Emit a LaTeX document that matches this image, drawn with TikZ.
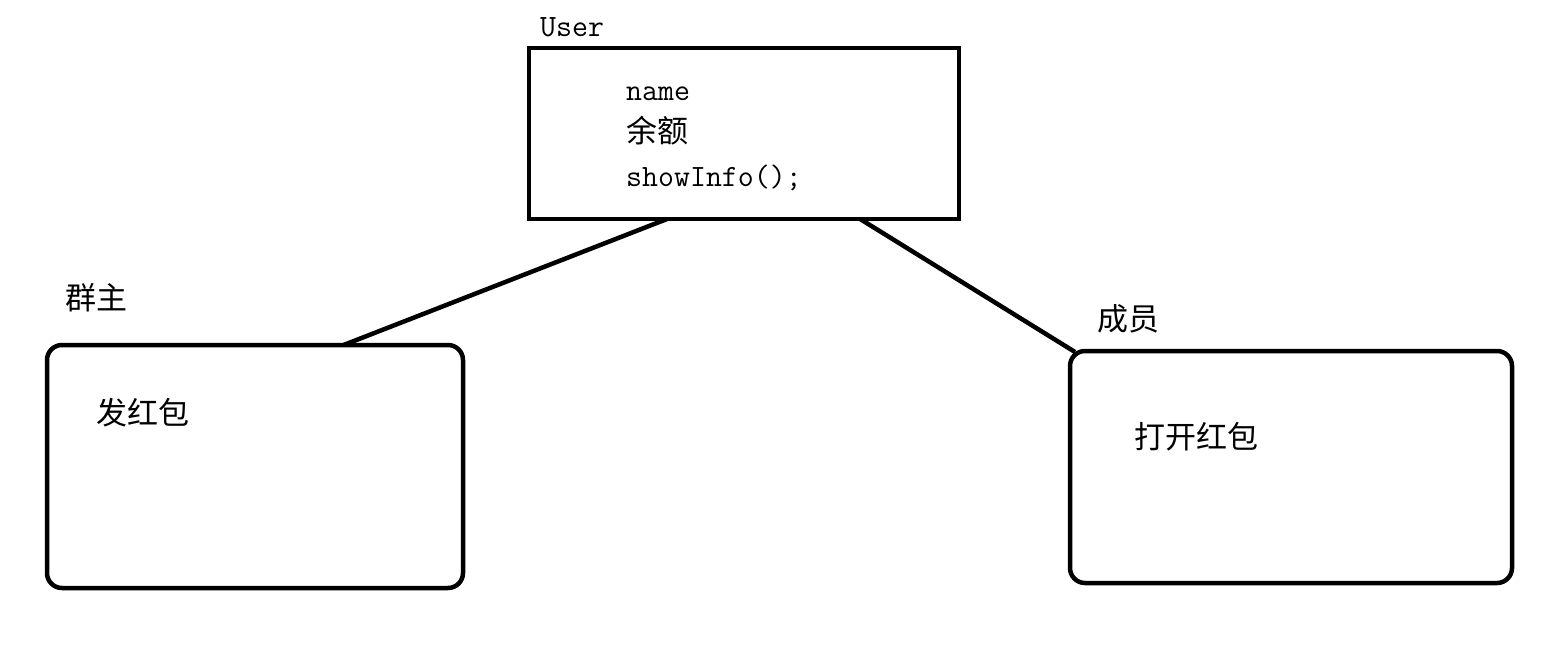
\documentclass[tikz,border=0pt]{standalone}
\usepackage{fontspec}
\newfontfamily\cjk{Noto Sans CJK SC}
\usetikzlibrary{calc}
\begin{document}
\begin{tikzpicture}[x=1pt,y=-1pt,
  box/.style={draw=black,line width=4.5pt,inner sep=0pt,outer sep=0pt},
  rbox/.style={box,rounded corners=15pt},
  link/.style={draw=black,line width=4.5pt},
  cn/.style={font=\cjk\fontsize{31}{36}\selectfont,inner sep=0pt,anchor=west},
  tt/.style={font=\ttfamily\fontsize{31}{36}\selectfont,inner sep=0pt,anchor=base west}]
\useasboundingbox (0,0) rectangle (1555,659);
\fill[white] (0,0) rectangle (1555,659);
% boxes
\node[box,minimum width=430pt,minimum height=171pt] (user) at (744,133.5) {};
\node[rbox,minimum width=416pt,minimum height=243pt] (owner) at (255,466.5) {};
\node[rbox,minimum width=442pt,minimum height=232pt] (member) at (1291,467) {};
% labels
\node[tt] (userlbl) at (540,36) {User};
\node[tt] (name) at (626,100) {name};
\node[cn] (bal) at (626,131) {余额};
\node[tt] (show) at (626,186) {showInfo();};
\node[cn] (ownerlbl) at (65,298) {群主};
\node[cn] (send) at (96,413) {发红包};
\node[cn] (memberlbl) at (1097,319) {成员};
\node[cn] (open) at (1134,437) {打开红包};
% connectors
\draw[link] ($(user.south west)!0.321!(user.south east)$) -- ($(owner.north west)!0.713!(owner.north east)$);
\draw[link] ($(user.south west)!0.770!(user.south east)$) -- ($(member.north west)+(5,1)$);
\end{tikzpicture}
\end{document}
